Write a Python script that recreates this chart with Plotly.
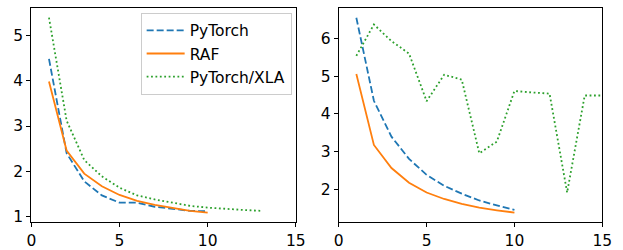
import plotly.graph_objects as go

# Left panel data
x_left_pt = [1, 2, 3, 4, 5, 6, 7, 8, 9, 10]
left_pytorch = [4.48, 2.40, 1.78, 1.47, 1.31, 1.31, 1.22, 1.17, 1.13, 1.12]
left_raf = [3.98, 2.46, 1.95, 1.67, 1.48, 1.35, 1.26, 1.19, 1.13, 1.09]
x_left_xla = [1, 2, 3, 4, 5, 6, 7, 8, 9, 10, 11, 12, 13]
left_xla = [5.39, 3.12, 2.25, 1.89, 1.64, 1.47, 1.38, 1.31, 1.24, 1.20, 1.17, 1.15, 1.13]

# Right panel data
x_right_pt = [1, 2, 3, 4, 5, 6, 7, 8, 9, 10]
right_pytorch = [6.55, 4.35, 3.40, 2.81, 2.39, 2.10, 1.89, 1.71, 1.58, 1.46]
right_raf = [5.06, 3.18, 2.57, 2.18, 1.92, 1.75, 1.62, 1.52, 1.45, 1.39]
x_right_xla = [1, 2, 3, 4, 5, 6, 7, 8, 9, 10, 11, 12, 13, 14, 15]
right_xla = [5.54, 6.37, 5.93, 5.60, 4.34, 5.04, 4.91, 2.96, 3.27, 4.61, 4.57, 4.54, 1.92, 4.49, 4.49]

x_ticks = [0, 5, 10, 15]
left_y_ticks = [1, 2, 3, 4, 5]
right_y_ticks = [2, 3, 4, 5, 6]

BLUE, ORANGE, GREEN = "#1f77b4", "#ff7f0e", "#2ca02c"
W, H = 623, 250
FONT = dict(family="DejaVu Sans", size=15.5, color="black")
LW = 1.8
DASH = "7px,3px"
DOT = "1.8px,2.6px"


def px(xr):
    return xr / W


def py(yr):
    return 1 - yr / H


fig = go.Figure()
fig.add_trace(go.Scatter(x=x_left_pt, y=left_pytorch, mode="lines", name="PyTorch", legendgroup="a",
                         line=dict(color=BLUE, width=LW, dash=DASH), xaxis="x", yaxis="y"))
fig.add_trace(go.Scatter(x=x_left_pt, y=left_raf, mode="lines", name="RAF", legendgroup="b",
                         line=dict(color=ORANGE, width=LW), xaxis="x", yaxis="y"))
fig.add_trace(go.Scatter(x=x_left_xla, y=left_xla, mode="lines", name="PyTorch/XLA", legendgroup="c",
                         line=dict(color=GREEN, width=LW, dash=DOT), xaxis="x", yaxis="y"))
fig.add_trace(go.Scatter(x=x_right_pt, y=right_pytorch, mode="lines", showlegend=False,
                         line=dict(color=BLUE, width=LW, dash=DASH), xaxis="x2", yaxis="y2"))
fig.add_trace(go.Scatter(x=x_right_pt, y=right_raf, mode="lines", showlegend=False,
                         line=dict(color=ORANGE, width=LW), xaxis="x2", yaxis="y2"))
fig.add_trace(go.Scatter(x=x_right_xla, y=right_xla, mode="lines", showlegend=False,
                         line=dict(color=GREEN, width=LW, dash=DOT), xaxis="x2", yaxis="y2"))

axcommon = dict(showline=True, linecolor="black", linewidth=1, mirror=True, ticks="outside",
                ticklen=4, tickwidth=1, tickcolor="black", showgrid=False, zeroline=False,
                tickfont=FONT)

fig.update_layout(
    width=W, height=H, margin=dict(l=0, r=0, t=0, b=0),
    paper_bgcolor="white", plot_bgcolor="white",
    xaxis=dict(domain=[px(27), px(298)], range=[0, 15], tickvals=x_ticks, anchor="y", **axcommon),
    yaxis=dict(domain=[py(226), py(8)], range=[0.875, 5.605], tickvals=left_y_ticks, anchor="x", **axcommon),
    xaxis2=dict(domain=[px(342), px(612)], range=[0, 15], tickvals=x_ticks, anchor="y2", **axcommon),
    yaxis2=dict(domain=[py(226), py(8)], range=[1.13, 6.81], tickvals=right_y_ticks, anchor="x2", **axcommon),
    legend=dict(x=px(139), y=py(13), xanchor="left", yanchor="top", font=FONT,
                bordercolor="#cccccc", borderwidth=1, bgcolor="rgba(255,255,255,0.8)",
                traceorder="grouped", tracegroupgap=0, itemwidth=38),
    showlegend=True,
)

# remove the browser's default 8px body margin so the 623x250 figure fills the window exactly
fig.write_html(
    "out.html",
    config={"displayModeBar": False},
    post_script="document.body.style.margin='0';document.body.style.overflow='hidden';"
                "document.documentElement.style.overflow='hidden';",
)
